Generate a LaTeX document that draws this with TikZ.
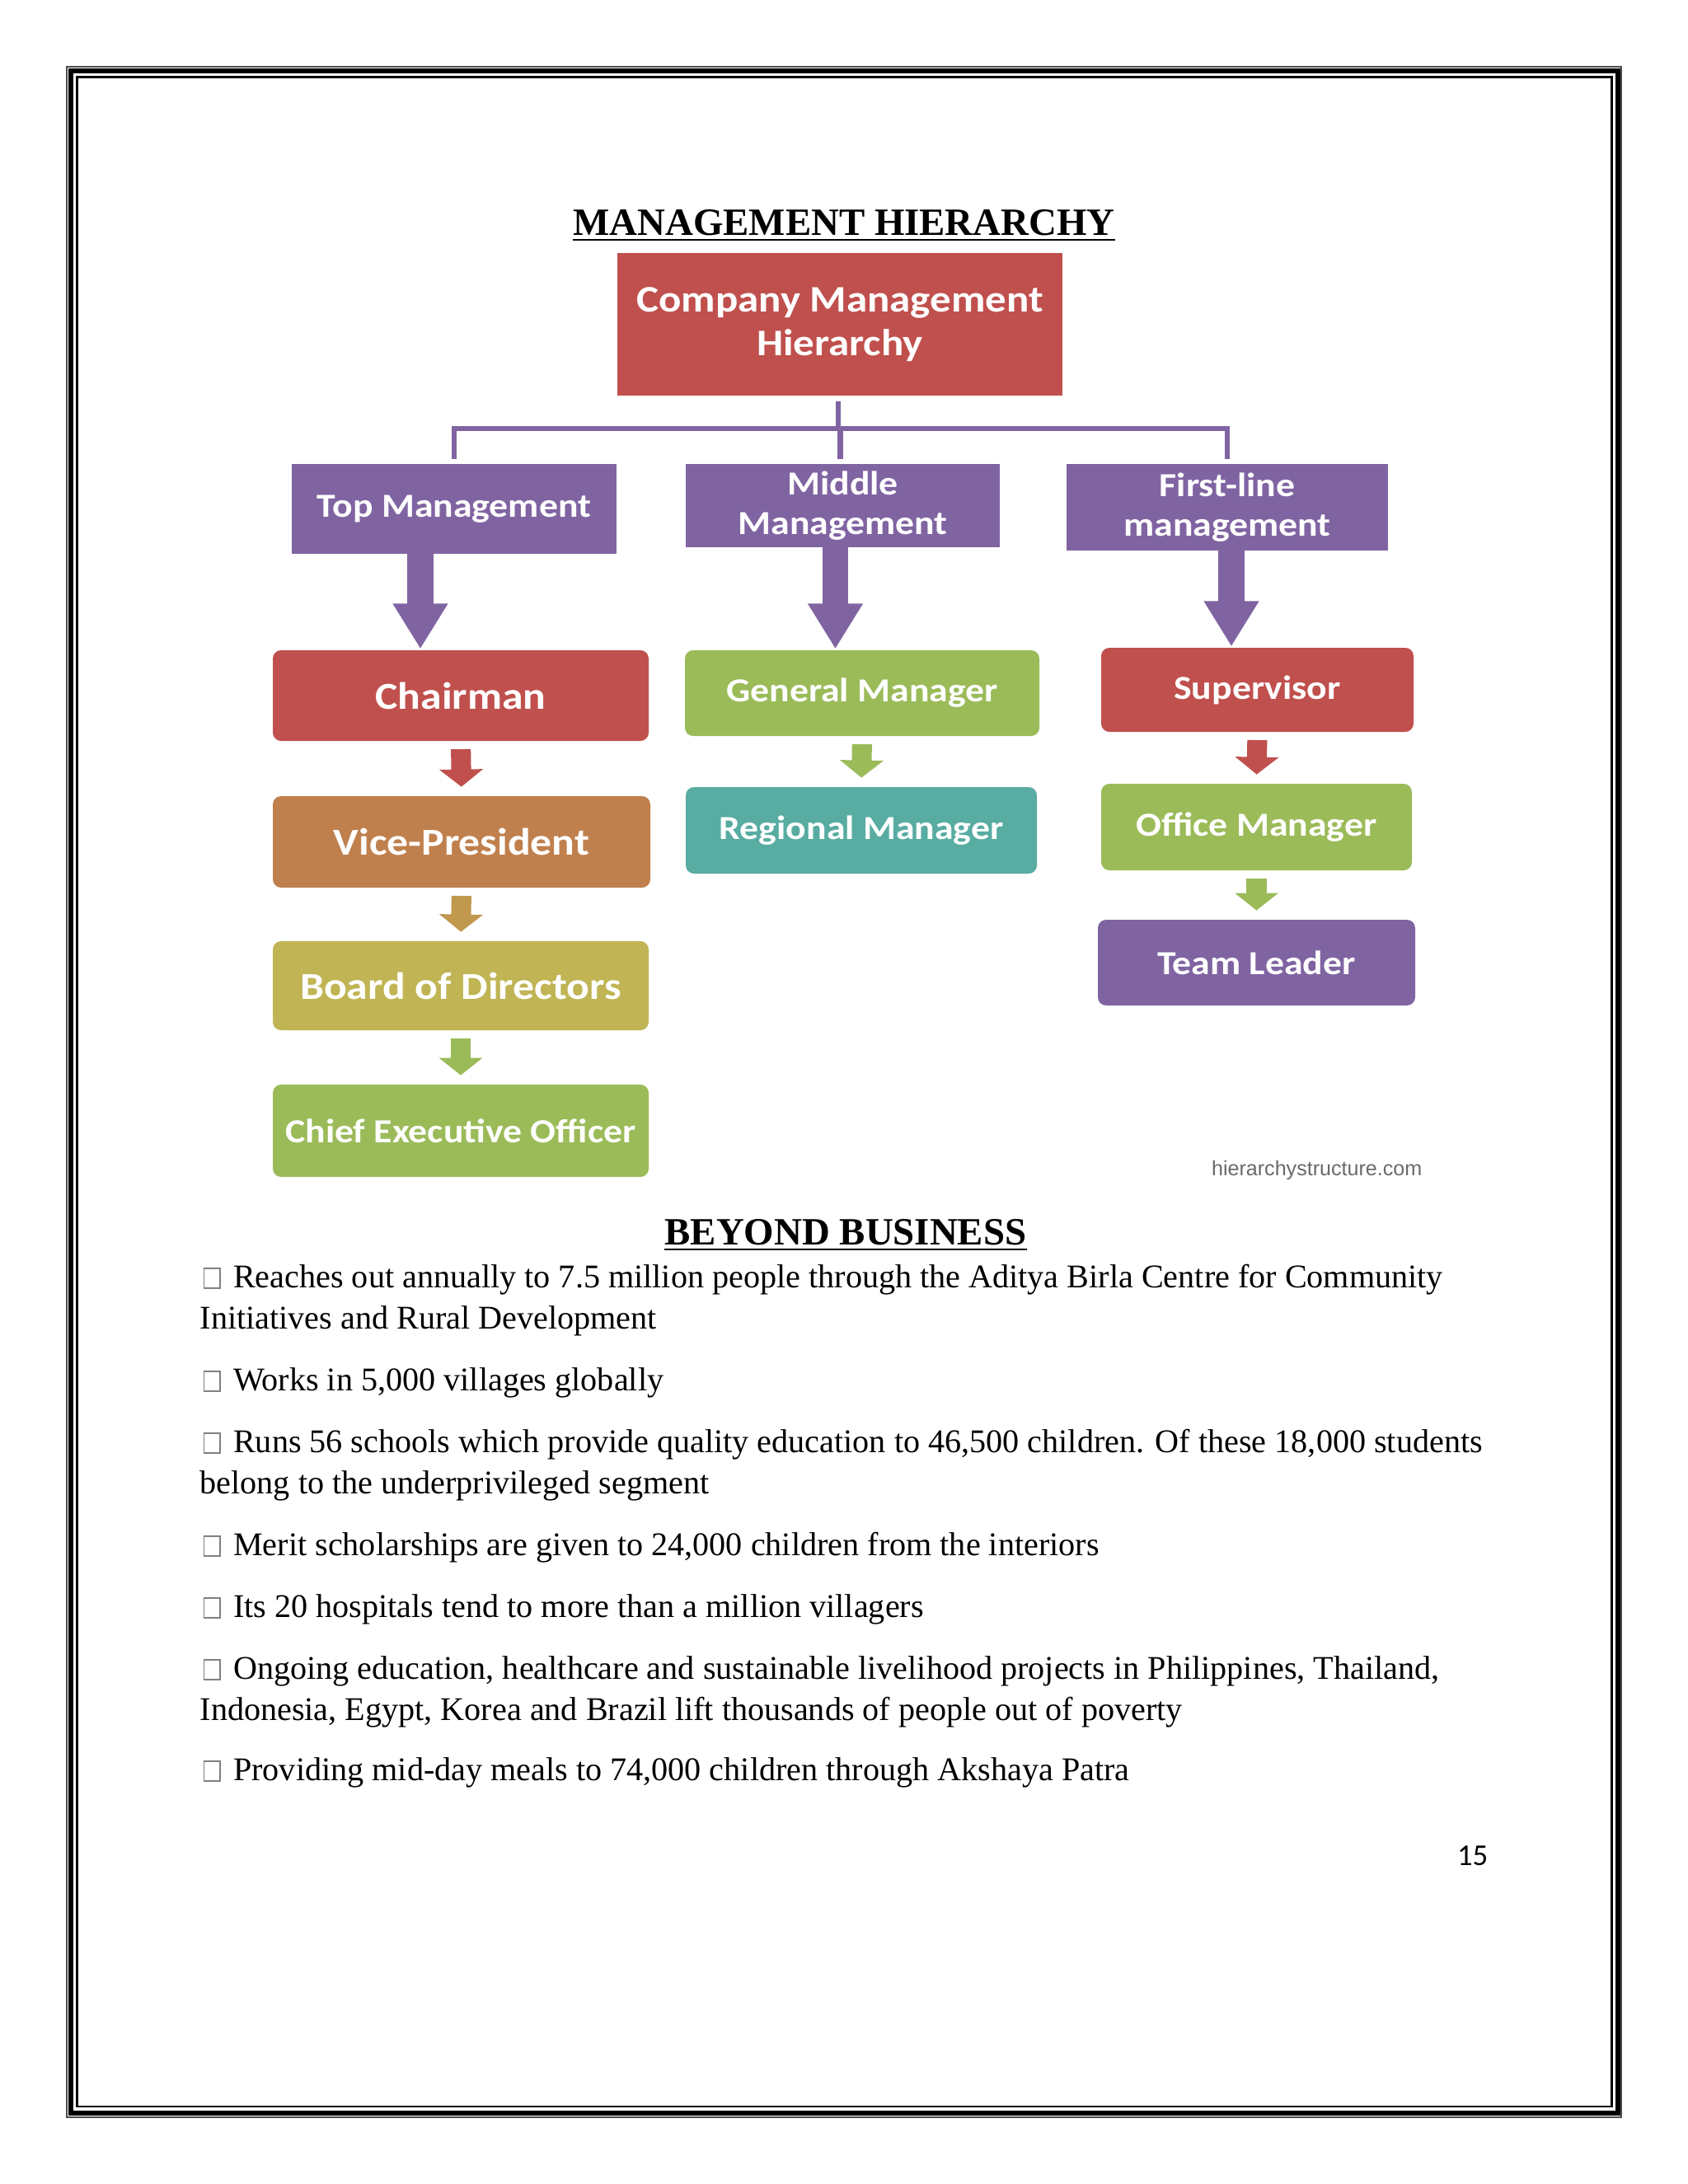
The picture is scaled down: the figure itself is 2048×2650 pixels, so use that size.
\documentclass[tikz,border=0pt]{standalone}
\usepackage{fontspec}
\setmainfont{Liberation Serif}
\newfontfamily\chartfont[FakeStretch=1.12]{Carlito}
\newfontfamily\pagefont{Carlito}
\newfontfamily\webfont{Liberation Sans}
\usetikzlibrary{arrows.meta,calc}
\definecolor{cred}{HTML}{C0504D}
\definecolor{cpurple}{HTML}{8064A2}
\definecolor{cgreen}{HTML}{9BBB59}
\definecolor{corange}{HTML}{C0804D}
\definecolor{cgold}{HTML}{C0984E}
\definecolor{colive}{RGB}{192,180,84}
\definecolor{cteal}{RGB}{88,172,162}
\definecolor{cweb}{HTML}{6A6A6A}
\newcommand{\tofu}{{\color{gray}\fboxsep=0pt\fboxrule=0.45pt\fbox{\rule{0pt}{6.6pt}\hspace{5.4pt}}}\hspace{4.6pt}}
\newcommand{\cbox}[7]{\node[#6, minimum width={(#4-#2)*0.298828pt}, minimum height={(#5-#3)*0.298828pt}] (#1) at ({(#2+#4)/2},{(#3+#5)/2}) {#7};}
\tikzset{
  chartbox/.style={inner sep=0pt, outer sep=0pt, text=white, align=center},
  hdr/.style={chartbox, fill=cpurple, font=\chartfont\bfseries\fontsize{12.2}{14.4}\selectfont},
  rowbox/.style={chartbox, rounded corners=3pt, font=\chartfont\bfseries\fontsize{12.2}{14.4}\selectfont},
  bigrow/.style={rowbox, font=\chartfont\bfseries\fontsize{13.8}{15}\selectfont},
  conn/.style={draw=cpurple, line width=1.8pt},
  bigarrow/.style={line width=9.3pt, -{Triangle[width=18.8pt,length=16.4pt]}, shorten >=0.5pt},
  smallarrow/.style={line width=7.2pt, -{Triangle[width=15.5pt,length=6.3pt]}, shorten <=3pt, shorten >=3.4pt},
  bodyline/.style={anchor=base west, inner sep=0pt, font=\fontsize{12}{14}\selectfont},
  heading/.style={anchor=base, inner sep=0pt, font=\bfseries\fontsize{14}{16}\selectfont}
}
\begin{document}
\begin{tikzpicture}[x=0.298828pt,y=-0.298828pt]
\useasboundingbox (0,0) rectangle (2048,2650);
\fill[white] (0,0) rectangle (2048,2650);
% page border
\draw[line width=0.45pt, black!70] (81,81) rectangle (1967,2569);
\draw[line width=1.8pt] (86,86) rectangle (1962.5,2563.5);
\draw[line width=0.75pt] (93.5,93.5) rectangle (1955.5,2556);

% title
\node[heading] (title) at (1024,285) {MANAGEMENT HIERARCHY};
\draw[line width=0.6pt] ([yshift=-1.7pt]title.base west) -- ([yshift=-1.7pt]title.base east);

% chart boxes
\cbox{cmp}{749}{307}{1289}{480}{chartbox, fill=cred, font=\chartfont\bfseries\fontsize{13.6}{16}\selectfont}{Company Management\\Hierarchy}
\cbox{tm}{354}{563}{748}{672}{hdr}{Top Management}
\cbox{mm}{832}{563}{1213}{664}{hdr}{Middle\\Management}
\cbox{fl}{1294}{563}{1684}{668}{hdr}{First-line\\management}

\cbox{ch}{331}{789}{787}{899}{bigrow, fill=cred}{Chairman}
\cbox{vp}{331}{966}{789}{1077}{bigrow, fill=corange}{Vice-President}
\cbox{bd}{331}{1142}{787}{1250}{bigrow, fill=colive}{Board of Directors}
\cbox{ceo}{331}{1316}{787}{1428}{rowbox, fill=cgreen}{Chief Executive Officer}

\cbox{gm}{831}{789}{1261}{893}{rowbox, fill=cgreen}{General Manager}
\cbox{rm}{832}{955}{1258}{1060}{rowbox, fill=cteal}{Regional Manager}

\cbox{su}{1336}{786}{1715}{888}{rowbox, fill=cred}{Supervisor}
\cbox{om}{1336}{951}{1713}{1056}{rowbox, fill=cgreen}{Office Manager}
\cbox{tl}{1332}{1116}{1717}{1220}{rowbox, fill=cpurple}{Team Leader}

% tree connector
\coordinate (jc) at ($(cmp.south)+(-2,40)$);
\coordinate (cs) at ($(cmp.south)+(-2,7)$);
\coordinate (tmt) at ($(tm.north)+(0,-6)$);
\coordinate (flt) at ($(fl.north)+(0,-6)$);
\coordinate (flj) at ($(fl.north)+(0,-43)$);
\coordinate (mmt) at ($(mm.north)+(-3,-6)$);
\coordinate (mmj) at ($(mm.north)+(-3,-43)$);
\draw[conn] (cs) -- (jc);
\draw[conn] (tmt) |- (flj) -- (flt);
\draw[conn] (mmt) -- (mmj);

% big arrows
\coordinate (a1s) at ($(tm.south)+(-41,0)$);
\coordinate (a1e) at (a1s |- ch.north);
\coordinate (a2s) at ($(mm.south)+(-9,0)$);
\coordinate (a2e) at (a2s |- gm.north);
\coordinate (a3s) at ($(fl.south)+(5,0)$);
\coordinate (a3e) at (a3s |- su.north);
\draw[bigarrow, cpurple] (a1s) -- (a1e);
\draw[bigarrow, cpurple] (a2s) -- (a2e);
\draw[bigarrow, cpurple] (a3s) -- (a3e);

% small arrows
\draw[smallarrow, cred] (ch.south) -- (vp.north);
\draw[smallarrow, cgold] (vp.south) -- (bd.north);
\draw[smallarrow, cgreen] (bd.south) -- (ceo.north);
\draw[smallarrow, cgreen] (gm.south) -- (rm.north);
\draw[smallarrow, cred] (su.south) -- (om.north);
\draw[smallarrow, cgreen] (om.south) -- (tl.north);

\node[anchor=base east, inner sep=0pt, text=cweb, font=\webfont\fontsize{7.5}{9}\selectfont] (web) at (1726,1426) {hierarchystructure.com};

% beyond business
\node[heading] (bb) at (1026,1510) {BEYOND BUSINESS};
\draw[line width=0.6pt] ([yshift=-1.9pt]bb.base west) -- ([yshift=-1.9pt]bb.base east);

\node[bodyline] (l1) at (246,1562) {\tofu Reaches out annually to 7.5 million people through the Aditya Birla Centre for Community};
\node[bodyline] (l2) at (242,1612) {Initiatives and Rural Development};
\node[bodyline] (l3) at (246,1687) {\tofu Works in 5,000 villages globally};
\node[bodyline] (l4) at (246,1762) {\tofu Runs 56 schools which provide quality education to 46,500 children. Of these 18,000 students};
\node[bodyline] (l5) at (242,1812) {belong to the underprivileged segment};
\node[bodyline] (l6) at (246,1887) {\tofu Merit scholarships are given to 24,000 children from the interiors};
\node[bodyline] (l7) at (246,1962) {\tofu Its 20 hospitals tend to more than a million villagers};
\node[bodyline] (l8) at (246,2037) {\tofu Ongoing education, healthcare and sustainable livelihood projects in Philippines, Thailand,};
\node[bodyline] (l9) at (242,2087) {Indonesia, Egypt, Korea and Brazil lift thousands of people out of poverty};
\node[bodyline] (l10) at (246,2160) {\tofu Providing mid-day meals to 74,000 children through Akshaya Patra};

\node[anchor=base east, inner sep=0pt, font=\pagefont\fontsize{11}{13}\selectfont] (pg) at (1806,2263) {15};
\end{tikzpicture}
\end{document}
